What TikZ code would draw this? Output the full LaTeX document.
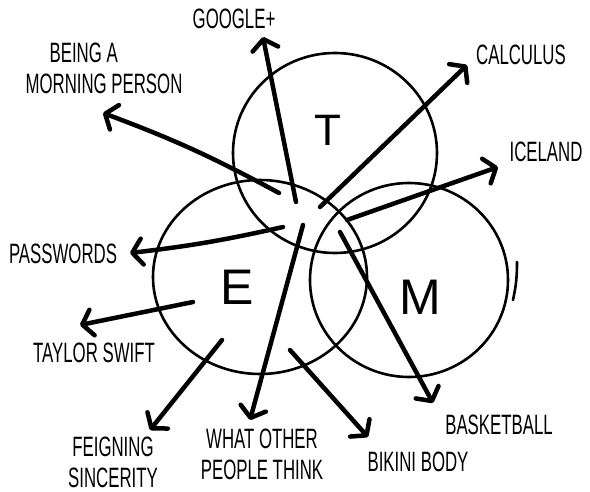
\documentclass[tikz,border=0pt]{standalone}
\usepackage{fontspec}
\setmainfont[FakeStretch=0.6]{Liberation Sans}
\newfontfamily\setletterfont{Liberation Sans}
\usepackage{tikz}
\usetikzlibrary{arrows.meta,positioning,shapes.geometric}
\tikzset{
  venn/set/.style={draw, ellipse, line width=2.6pt, inner sep=0pt},
  venn/letter/.style={font=\setletterfont\fontsize{50}{50}\selectfont, inner sep=0pt},
  venn/label/.style={font=\fontsize{28}{31}\selectfont, align=center, inner sep=0pt},
  venn/arrow/.style={line width=4.5pt, line cap=round,
    -{Straight Barb[length=10pt,width=26pt,round]}},
  venn/stroke/.style={line width=2.6pt, line cap=round}
}

\begin{document}
\begin{tikzpicture}[x=1pt,y=-1pt]
  \useasboundingbox (0,0) rectangle (590,492);

  % the three sets
  \node[venn/set, minimum width=204pt, minimum height=200pt] (setT) at (335,153) {};
  \node[venn/set, minimum width=214pt, minimum height=194pt] (setE) at (260,277) {};
  \node[venn/set, minimum width=198pt, minimum height=194pt] (setM) at (409,280) {};
  \draw[venn/stroke] (517,262) to[bend left=6] (513,300);

  \node[venn/letter, font=\setletterfont\fontsize{44}{44}\selectfont] (letT) at (328,130) {T};
  \node[venn/letter] (letE) at (237,287) {E};
  \node[venn/letter] (letM) at (420,297) {M};

  % labels
  \node[venn/label] (google) at (234,19) {GOOGLE+};
  \node[venn/label, align=left] (morning) at (104,68) {\hspace*{24pt}BEING A\\MORNING PERSON};
  \node[venn/label] (calculus) at (521,55) {CALCULUS};
  \node[venn/label] (iceland) at (546,152) {ICELAND};
  \node[venn/label] (passwords) at (63,254) {PASSWORDS};
  \node[venn/label] (taylor) at (94,353) {TAYLOR SWIFT};
  \node[venn/label] (feigning) at (113,462) {FEIGNING\\SINCERITY};
  \node[venn/label] (others) at (262,454) {WHAT OTHER\\PEOPLE THINK};
  \node[venn/label] (bikini) at (418,462) {BIKINI BODY};
  \node[venn/label] (basketball) at (499,425) {BASKETBALL};

  % arrow ends
  \coordinate (google-from) at (296,202);   \coordinate (google-to) at (263,37);
  \coordinate (morning-from) at (279,193);  \coordinate (morning-to) at (103,113);
  \coordinate (calculus-from) at (320,207); \coordinate (calculus-to) at (467,65);
  \coordinate (iceland-from) at (347,220);  \coordinate (iceland-to) at (498,167);
  \coordinate (passwords-from) at (283,227); \coordinate (passwords-to) at (130,253);
  \coordinate (taylor-from) at (193,302);   \coordinate (taylor-to) at (80,325);
  \coordinate (feigning-from) at (222,340); \coordinate (feigning-to) at (150,430);
  \coordinate (others-from) at (303,225);   \coordinate (others-to) at (250,420);
  \coordinate (bikini-from) at (290,350);   \coordinate (bikini-to) at (368,437);
  \coordinate (basketball-from) at (340,232); \coordinate (basketball-to) at (433,403);

  \foreach \a in {google,calculus,iceland,taylor,feigning,others,bikini,basketball}
    \draw[venn/arrow] (\a-from) -- (\a-to);
  \draw[venn/arrow] (morning-from) to[bend right=4] (morning-to);
  \draw[venn/arrow] (passwords-from) to[bend left=3] (passwords-to);
\end{tikzpicture}
\end{document}
